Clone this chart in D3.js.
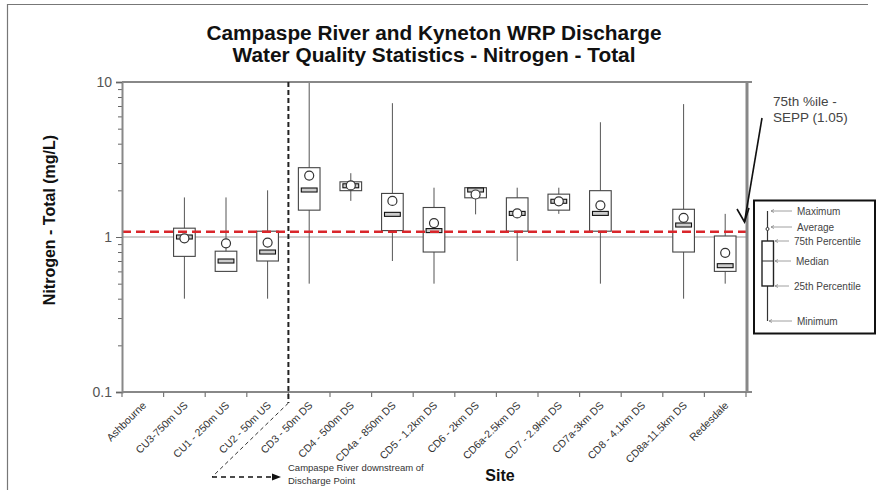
<!DOCTYPE html>
<html><head><meta charset="utf-8">
<script src="https://cdn.jsdelivr.net/npm/d3@7"></script>
<style>body{margin:0;background:#fff}svg{display:block}text{font-family:"Liberation Sans",Arial,sans-serif}</style>
</head><body><svg id="c" width="876" height="490"></svg>
<script>
// ---- data ----
const sites = ["Ashbourne","CU3-750m US","CU1 - 250m US","CU2 - 50m US","CD3 - 50m DS","CD4 - 500m DS","CD4a - 850m DS","CD5 - 1.2km DS","CD6 - 2km DS","CD6a-2.5km DS","CD7 - 2.9km DS","CD7a-3km DS","CD8 - 4.1km DS","CD8a-11.5km DS","Redesdale"];
const minV  = [null,0.40,0.60,0.40,0.50,1.71,0.70,0.50,1.40,0.70,1.41,0.50,null,0.40,0.50];
const q1V   = [null,0.75,0.60,0.70,1.49,1.99,1.10,0.80,1.79,1.09,1.49,1.09,null,0.80,0.60];
const medV  = [null,1.00,0.70,0.80,2.01,2.14,1.40,1.10,2.01,1.42,1.70,1.42,null,1.195,0.653];
const q3V   = [null,1.14,0.81,1.09,2.80,2.27,1.91,1.55,2.08,1.79,1.89,1.99,null,1.51,1.015];
const maxV  = [null,1.80,1.80,2.00,10.0,2.58,7.30,2.08,2.08,2.08,2.08,5.50,null,7.20,1.41];
const meanV = [null,0.98,0.91,0.92,2.49,2.15,1.71,1.23,1.88,1.42,1.70,1.60,null,1.33,0.79];
const sepp = 1.08;          // 75th %ile SEPP guideline line
const majorTicks = [0.1, 1, 10];
const minorTicks = [0.2,0.3,0.4,0.5,0.6,0.7,0.8,0.9,2,3,4,5,6,7,8,9];
const title1 = "Campaspe River and Kyneton WRP Discharge";
const title2 = "Water Quality Statistics - Nitrogen - Total";
const legendItems = ["Maximum","Average","75th Percentile","Median","25th Percentile","Minimum"];

// ---- chart ----
const svg = d3.select("#c");
const L = 122, R = 746, T = 82, B = 392;
const x = d3.scaleBand().domain(sites).range([L, R]).padding(0);
const y = d3.scaleLog().domain([0.1, 10]).range([B, T]);
const bw = x.bandwidth();
const cx = s => x(s) + bw / 2;

// outer frame
svg.append("path").attr("d","M7.5,495V4.5H868").attr("fill","none").attr("stroke","#777").attr("stroke-width",1.2);

// titles
svg.append("text").attr("x",434).attr("y",40).attr("text-anchor","middle").attr("font-weight","bold").attr("font-size",20)
  .attr("textLength",455).attr("lengthAdjust","spacingAndGlyphs").attr("fill","#111").text(title1);
svg.append("text").attr("x",434).attr("y",62).attr("text-anchor","middle").attr("font-weight","bold").attr("font-size",20)
  .attr("textLength",403).attr("lengthAdjust","spacingAndGlyphs").attr("fill","#111").text(title2);

// gridline at 1
svg.append("line").attr("x1",L).attr("x2",R).attr("y1",y(1)).attr("y2",y(1)).attr("stroke","#999").attr("stroke-width",1.2);

// boxes
const data = sites.map((s,i)=>({s,min:minV[i],q1:q1V[i],med:medV[i],q3:q3V[i],max:maxV[i],mean:meanV[i]})).filter(d=>d.min!==null);
const g = svg.append("g");
g.selectAll(".wh").data(data).join("line").attr("x1",d=>cx(d.s)).attr("x2",d=>cx(d.s))
  .attr("y1",d=>y(d.max)).attr("y2",d=>y(d.min)).attr("stroke","#555").attr("stroke-width",1);
const boxW = bw*0.52;
g.selectAll(".bx").data(data).join("rect").attr("x",d=>cx(d.s)-boxW/2).attr("width",boxW)
  .attr("y",d=>y(d.q3)).attr("height",d=>y(d.q1)-y(d.q3)).attr("fill","#fff").attr("stroke","#444").attr("stroke-width",1.1);
const medW = bw*0.38;
g.selectAll(".md").data(data).join("rect").attr("x",d=>cx(d.s)-medW/2).attr("width",medW)
  .attr("y",d=>y(d.med)-2).attr("height",4).attr("fill","#ccc").attr("stroke","#111").attr("stroke-width",1.1);
g.selectAll(".mn").data(data).join("circle").attr("cx",d=>cx(d.s)).attr("cy",d=>y(d.mean)).attr("r",4.5)
  .attr("fill","#fff").attr("stroke","#333").attr("stroke-width",1.2);

// SEPP red dashed line
svg.append("line").attr("x1",L).attr("x2",R).attr("y1",y(sepp)).attr("y2",y(sepp))
  .attr("stroke","#d9262b").attr("stroke-width",2.6).attr("stroke-dasharray","9,5");

// axes frame
svg.append("line").attr("x1",L).attr("x2",752).attr("y1",T).attr("y2",T).attr("stroke","#888").attr("stroke-width",2);
svg.append("line").attr("x1",R+1).attr("x2",R+1).attr("y1",T).attr("y2",B).attr("stroke","#888").attr("stroke-width",3);

// left axis
const ax = svg.append("g").attr("transform",`translate(${L},0)`);
ax.call(d3.axisLeft(y).tickValues(minorTicks).tickSize(4).tickFormat(""));
ax.call(g2=>g2.selectAll("line").attr("stroke","#666"));
const axM = svg.append("g").attr("transform",`translate(${L},0)`)
  .call(d3.axisLeft(y).tickValues(majorTicks).tickSize(6).tickPadding(4).tickFormat(d=>d3.format("")(d)));
axM.select(".domain").attr("stroke","#888").attr("stroke-width",2);
axM.selectAll("line").attr("stroke","#666");
axM.selectAll("text").attr("font-size",14).attr("fill","#555").attr("font-family","Liberation Sans, Arial, sans-serif");
ax.select(".domain").remove();

// bottom axis
const bx = svg.append("g").attr("transform",`translate(0,${B})`)
  .call(d3.axisBottom(x).tickSize(0).tickPadding(0));
bx.select(".domain").remove();
bx.selectAll(".tick text").attr("text-anchor","end").attr("font-size",10.5).attr("fill","#333")
  .attr("font-family","Liberation Sans, Arial, sans-serif")
  .attr("transform","translate(4,14) rotate(-45)").attr("dy",0);
svg.append("line").attr("x1",L).attr("x2",752).attr("y1",B).attr("y2",B).attr("stroke","#888").attr("stroke-width",2);
const bounds = sites.map(s=>x(s)).concat([R]);
svg.selectAll(".bt").data(bounds).join("line").attr("x1",d=>d).attr("x2",d=>d).attr("y1",B).attr("y2",B+5)
  .attr("stroke","#777").attr("stroke-width",1.2);

// axis titles
svg.append("text").attr("transform","translate(55,220) rotate(-90)").attr("text-anchor","middle")
  .attr("font-weight","bold").attr("font-size",16).attr("fill","#111").text("Nitrogen - Total (mg/L)");
svg.append("text").attr("x",500).attr("y",481).attr("text-anchor","middle").attr("font-weight","bold").attr("font-size",16).attr("fill","#111").text("Site");

// discharge point vertical dashed
const dx = x(sites[4]);
svg.append("line").attr("x1",dx).attr("x2",dx).attr("y1",T).attr("y2",403).attr("stroke","#222").attr("stroke-width",2).attr("stroke-dasharray","5,3");
svg.append("line").attr("x1",dx).attr("y1",403).attr("x2",212).attr("y2",477).attr("stroke","#333").attr("stroke-width",1).attr("stroke-dasharray","4,3");
svg.append("line").attr("x1",212).attr("y1",477).attr("x2",273).attr("y2",477).attr("stroke","#111").attr("stroke-width",1.6).attr("stroke-dasharray","5,4");
svg.append("path").attr("d","M272,473.5L281,477L272,480.5Z").attr("fill","#111");
svg.append("text").attr("x",288).attr("y",471).attr("font-size",9.5).attr("fill","#333").text("Campaspe River downstream of");
svg.append("text").attr("x",288).attr("y",484).attr("font-size",9.5).attr("fill","#333").text("Discharge Point");

// SEPP annotation
svg.append("text").attr("x",773).attr("y",106).attr("font-size",13.5).attr("fill","#444").text("75th %ile -");
svg.append("text").attr("x",773).attr("y",122).attr("font-size",13.5).attr("fill","#444").text("SEPP (1.05)");
svg.append("line").attr("x1",762).attr("y1",118).attr("x2",744.5).attr("y2",222).attr("stroke","#111").attr("stroke-width",1.6);
svg.append("path").attr("d","M737,209L744.5,222L749,208").attr("fill","none").attr("stroke","#111").attr("stroke-width",1.6);

// legend
const lg = svg.append("g");
lg.append("rect").attr("x",754).attr("y",200.5).attr("width",121).attr("height",133).attr("fill","#fff").attr("stroke","#111").attr("stroke-width",2);
lg.append("line").attr("x1",767.5).attr("x2",767.5).attr("y1",211).attr("y2",321).attr("stroke","#333").attr("stroke-width",1.2);
lg.append("rect").attr("x",762).attr("y",241).attr("width",11.5).attr("height",45).attr("fill","#fff").attr("stroke","#222").attr("stroke-width",1.4);
lg.append("line").attr("x1",762).attr("x2",773.5).attr("y1",261).attr("y2",261).attr("stroke","#333");
lg.append("circle").attr("cx",767.5).attr("cy",229).attr("r",1.5).attr("fill","#fff").attr("stroke","#333");
const lgY = [211,227,241,261,286,321];
const lgX0 = [771,771,775,775,775,769];
const lgTx = [797,797,794,796,794,797];
lgItems = legendItems.map((t,i)=>({t,y:lgY[i],x0:lgX0[i],tx:lgTx[i]}));
lg.selectAll(".ll").data(lgItems).join("line").attr("x1",d=>d.x0).attr("x2",d=>d.tx-5).attr("y1",d=>d.y).attr("y2",d=>d.y).attr("stroke","#888").attr("stroke-width",0.8);
lg.selectAll(".la").data(lgItems).join("path").attr("d",d=>`M${d.x0+3},${d.y-1.5}L${d.x0},${d.y}L${d.x0+3},${d.y+1.5}`).attr("fill","none").attr("stroke","#888").attr("stroke-width",0.8);
lg.selectAll(".lt").data(lgItems).join("text").attr("x",d=>d.tx).attr("y",d=>d.y+3.5).attr("font-size",10).attr("fill","#444").text(d=>d.t);
</script></body></html>
